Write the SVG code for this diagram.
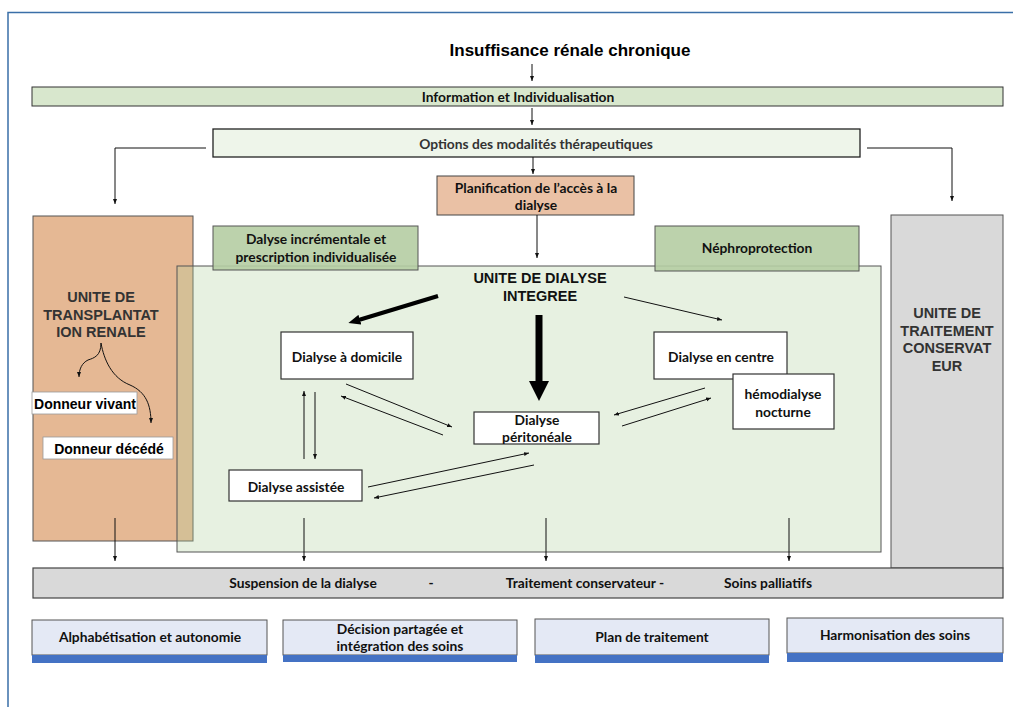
<svg xmlns="http://www.w3.org/2000/svg" width="1013" height="707" viewBox="0 0 1013 707">
<style>
.cal{font-family:Lato,"Liberation Sans",sans-serif;font-weight:bold;font-size:13.8px;fill:#111;text-anchor:middle}
.ar{font-family:"Liberation Sans",Arial,sans-serif;font-weight:bold;font-size:14.5px;fill:#333;text-anchor:middle}
.ln{stroke:#111;stroke-width:1;fill:none}
.wb{fill:#fff;stroke:#333;stroke-width:1.2}
.bb{fill:#e4e9f5;stroke:#555;stroke-width:1}
.strip{fill:#4472c4}
</style>
<defs>
<marker id="ah" viewBox="0 0 10 10" refX="10" refY="5" markerWidth="5" markerHeight="5" markerUnits="userSpaceOnUse" orient="auto"><path d="M0,1 L10,5 L0,9 z" fill="#111"/></marker>
<marker id="ahm" viewBox="0 0 12 10" refX="3" refY="5" markerWidth="12" markerHeight="10" markerUnits="userSpaceOnUse" orient="auto"><path d="M0,0 L12,5 L0,10 z" fill="#000"/></marker>
<marker id="ahb" viewBox="0 0 20 20" refX="4" refY="10" markerWidth="20" markerHeight="20" markerUnits="userSpaceOnUse" orient="auto"><path d="M0,0 L20,10 L0,20 z" fill="#000"/></marker>
</defs>

<g id="frame"><path d="M8,707 L8,12.5 L1013,12.5" fill="none" stroke="#3a6fa8" stroke-width="1.5"/></g>

<g id="title"><text x="570" y="56" font-family="Liberation Sans,Arial,sans-serif" font-weight="bold" font-size="17" text-anchor="middle" fill="#000">Insuffisance rénale chronique</text></g>

<g id="info"><rect x="32" y="87" width="971" height="19" fill="#d8e7cd" stroke="#333" stroke-width="1"/><text class="cal" x="518" y="101.5" font-size="13.4">Information et Individualisation</text></g>

<g id="options"><rect x="213" y="129" width="647" height="28" fill="#eef5ea" stroke="#222" stroke-width="1.3"/><text class="cal" x="536" y="148.5" style="fill:#333">Options des modalités thérapeutiques</text></g>

<g id="planification"><rect x="437" y="176" width="197" height="39" fill="#eac1a5" stroke="#444" stroke-width="1"/><text class="cal" x="536" y="192.5">Planification de l’accès à la</text><text class="cal" x="536" y="209.5">dialyse</text></g>

<g id="transplantation"><rect x="33" y="216" width="160" height="325" fill="#e5b894" stroke="#555" stroke-width="1"/>
<text class="ar" x="101" y="302">UNITE DE</text><text class="ar" x="101" y="319.5">TRANSPLANTAT</text><text class="ar" x="101" y="337">ION RENALE</text></g>

<g id="conservateur"><rect x="891" y="215" width="112" height="353" fill="#d9d9d9" stroke="#555" stroke-width="1"/>
<text class="ar" x="947" y="318">UNITE DE</text><text class="ar" x="947" y="335.5">TRAITEMENT</text><text class="ar" x="947" y="353">CONSERVAT</text><text class="ar" x="947" y="370.5">EUR</text></g>

<g id="udi"><rect x="177" y="266" width="704" height="286" fill="#afd09b" fill-opacity="0.3" stroke="#555" stroke-width="1"/>
<text class="ar" x="540" y="283" style="fill:#111">UNITE DE DIALYSE</text><text class="ar" x="540" y="301" style="fill:#111">INTEGREE</text></g>

<g id="dalyse-incrementale"><rect x="213" y="226" width="205" height="44" fill="#b5cda3" fill-opacity="0.9" stroke="#555" stroke-width="1"/><text class="cal" x="316" y="244">Dalyse incrémentale et</text><text class="cal" x="316" y="261.5">prescription individualisée</text></g>

<g id="nephroprotection"><rect x="655" y="226" width="204" height="45" fill="#b5cda3" fill-opacity="0.9" stroke="#555" stroke-width="1"/><text class="cal" x="757" y="252.5">Néphroprotection</text></g>

<g id="donneur-vivant"><rect x="32" y="392" width="105" height="22" fill="#fff" stroke="#999" stroke-width="0.8"/><text x="85" y="408.5" font-family="Liberation Sans,Arial,sans-serif" font-weight="bold" font-size="14" text-anchor="middle" fill="#000">Donneur vivant</text></g>

<g id="donneur-decede"><rect x="43" y="437" width="130" height="22" fill="#fff" stroke="#999" stroke-width="0.8"/><text x="109" y="453.5" font-family="Liberation Sans,Arial,sans-serif" font-weight="bold" font-size="14" text-anchor="middle" fill="#000">Donneur décédé</text></g>

<g id="domicile"><rect class="wb" x="281" y="332" width="132" height="47"/><text class="cal" x="347" y="361.5">Dialyse à domicile</text></g>
<g id="centre"><rect class="wb" x="654" y="332" width="133" height="47"/><text class="cal" x="721" y="361.5">Dialyse en centre</text></g>
<g id="hemodialyse"><rect class="wb" x="733" y="374" width="101" height="55"/><text class="cal" x="783" y="398.5">hémodialyse</text><text class="cal" x="783" y="416.5">nocturne</text></g>
<g id="peritoneale"><rect class="wb" x="474" y="412" width="125" height="32"/><text class="cal" x="537" y="424.5">Dialyse</text><text class="cal" x="537" y="441.5">péritonéale</text></g>
<g id="assistee"><rect class="wb" x="229" y="470" width="133" height="31"/><text class="cal" x="296" y="491.5">Dialyse assistée</text></g>

<g id="suspension"><rect x="33" y="568" width="970" height="30" fill="#d9d9d9" stroke="#444" stroke-width="1.2"/>
<text class="cal" x="303" y="588">Suspension de la dialyse</text><text class="cal" x="431" y="588">-</text><text class="cal" x="585" y="588">Traitement conservateur -</text><text class="cal" x="768" y="588">Soins palliatifs</text></g>

<g id="alphabetisation"><rect class="bb" x="32" y="620" width="235" height="35"/><rect class="strip" x="32" y="655" width="235" height="8"/><text class="cal" x="150" y="642">Alphabétisation et autonomie</text></g>
<g id="decision"><rect class="bb" x="283" y="620" width="234" height="35"/><rect class="strip" x="283" y="655" width="234" height="7"/><text class="cal" x="400" y="633.5">Décision partagée et</text><text class="cal" x="400" y="650.5">intégration des soins</text></g>
<g id="plan"><rect class="bb" x="535" y="619" width="234" height="36"/><rect class="strip" x="535" y="655" width="234" height="8"/><text class="cal" x="652" y="642">Plan de traitement</text></g>
<g id="harmonisation"><rect class="bb" x="787" y="618" width="216" height="35"/><rect class="strip" x="787" y="653" width="216" height="9"/><text class="cal" x="895" y="640">Harmonisation des soins</text></g>

<g id="connectors">
<line class="ln" x1="532" y1="64" x2="532" y2="81" marker-end="url(#ah)"/>
<line class="ln" x1="532" y1="108" x2="532" y2="125" marker-end="url(#ah)"/>
<path class="ln" d="M206,148 H115 V204" marker-end="url(#ah)"/>
<path class="ln" d="M867,148 H952 V201" marker-end="url(#ah)"/>
<line class="ln" x1="533" y1="157" x2="533" y2="174" marker-end="url(#ah)"/>
<line class="ln" x1="537" y1="215" x2="537" y2="258" marker-end="url(#ah)"/>
<line x1="438" y1="296" x2="357" y2="320.5" stroke="#000" stroke-width="4" marker-end="url(#ahm)"/>
<line x1="539" y1="315" x2="539" y2="385" stroke="#000" stroke-width="7" marker-end="url(#ahb)"/>
<line class="ln" x1="624" y1="297" x2="722" y2="320" marker-end="url(#ah)"/>
<path class="ln" d="M101,343 C101,356 94,358 88,360 C82,363 79,369 79,377" marker-end="url(#ah)"/>
<path class="ln" d="M101,343 C104,360 112,378 130,385 C146,392 151,405 151,423" marker-end="url(#ah)"/>
<line class="ln" x1="304" y1="459" x2="304" y2="391" marker-end="url(#ah)"/>
<line class="ln" x1="315" y1="392" x2="315" y2="459" marker-end="url(#ah)"/>
<line class="ln" x1="346" y1="384" x2="452" y2="427" marker-end="url(#ah)"/>
<line class="ln" x1="443" y1="435" x2="341" y2="396" marker-end="url(#ah)"/>
<line class="ln" x1="368" y1="487" x2="529" y2="453" marker-end="url(#ah)"/>
<line class="ln" x1="534" y1="465" x2="374" y2="498" marker-end="url(#ah)"/>
<line class="ln" x1="705" y1="388" x2="614" y2="415" marker-end="url(#ah)"/>
<line class="ln" x1="622" y1="426" x2="711" y2="398" marker-end="url(#ah)"/>
<line class="ln" x1="115" y1="518" x2="115" y2="561" marker-end="url(#ah)"/>
<line class="ln" x1="304" y1="518" x2="304" y2="561" marker-end="url(#ah)"/>
<line class="ln" x1="546" y1="518" x2="546" y2="561" marker-end="url(#ah)"/>
<line class="ln" x1="789" y1="518" x2="789" y2="561" marker-end="url(#ah)"/>
</g>
</svg>
